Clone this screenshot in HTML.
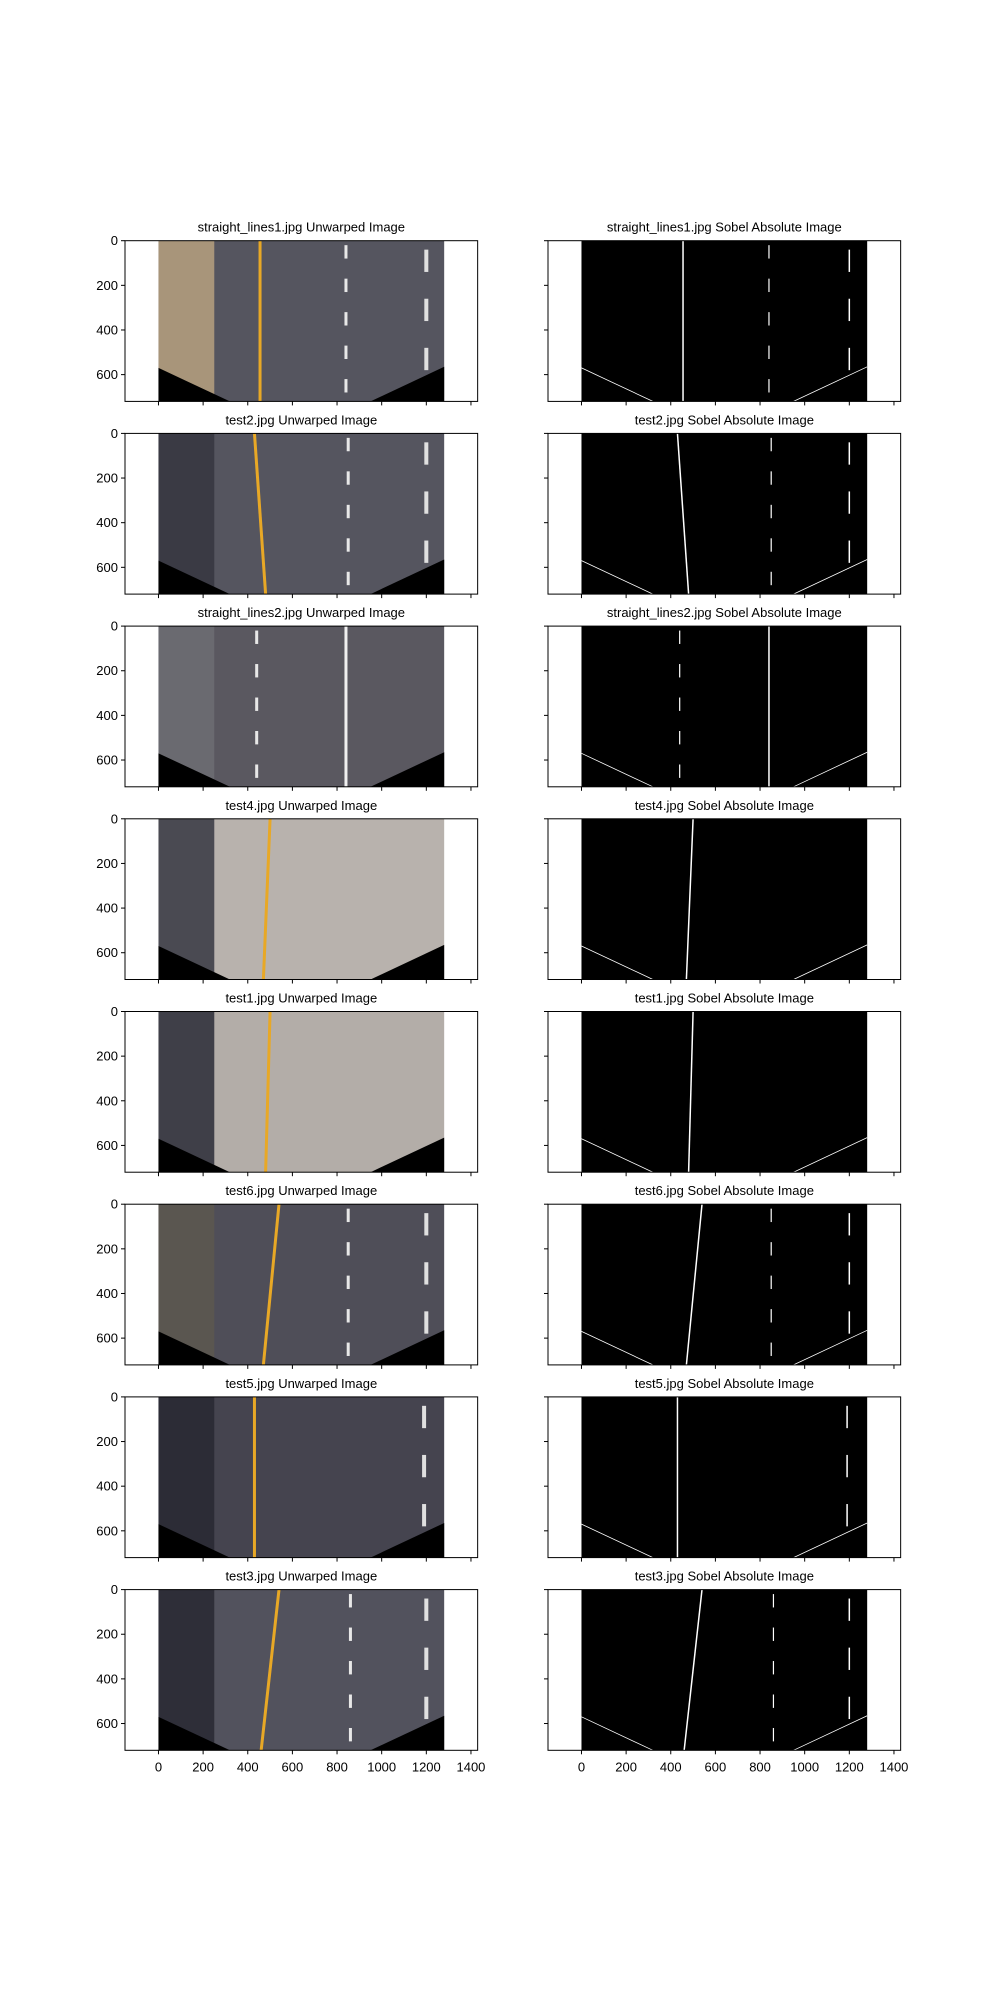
<!DOCTYPE html>
<html><head><meta charset="utf-8"><style>
body{margin:0;background:#fff;}
svg text{font-family:"Liberation Sans","DejaVu Sans",sans-serif;fill:#000;}
</style></head><body>
<svg id="fig" width="1000" height="2000" xmlns="http://www.w3.org/2000/svg"></svg>
<script>
const names=["straight_lines1.jpg","test2.jpg","straight_lines2.jpg","test4.jpg","test1.jpg","test6.jpg","test5.jpg","test3.jpg"];
const roadColors=["#55555f","#55555f","#5a5860","#b8b2ad","#b3ada8","#4f4e58","#45444f","#52525d"];
const edgeColors=["#a8957a","#3a3a44","#6a6a70","#4a4a52","#3f3f48","#5a5650","#2c2c36","#2e2e38"];
const yellowTop=[455,430,null,500,500,540,430,540];
const yellowBot=[455,480,null,470,480,470,430,460];
const laneA=[840,850,440,null,null,850,null,860];
const laneB=[1200,1200,840,null,null,1200,1190,1200];
const solidB=[false,false,true,false,false,false,false,false];
const xTicks=[0,200,400,600,800,1000,1200,1400];
const yTicks=[0,200,400,600];
const XMIN=-150,XMAX=1430,YMAX=720;
const S=0.2232;
const colLeft=[125,548];
const rowTop0=240.7,rowPitch=192.7;
const NS="http://www.w3.org/2000/svg";
const fig=document.getElementById('fig');
function mk(t,a,p){const e=document.createElementNS(NS,t);for(const k in a)e.setAttribute(k,a[k]);(p||fig).appendChild(e);return e;}
names.forEach((nm,i)=>{
 [0,1].forEach(c=>{
  const L=colLeft[c],T=rowTop0+i*rowPitch;
  const X=v=>L+(v-XMIN)*S, Y=v=>T+v*S;
  const g=mk('g',{});
  
  
  const bg=c?'#000':roadColors[i];
  mk('rect',{x:X(0),y:Y(0),width:1280*S,height:720*S,fill:bg},g);
  const line=(x1,y1,x2,y2,col,w)=>mk('line',{x1:X(x1),y1:Y(y1),x2:X(x2),y2:Y(y2),stroke:col,'stroke-width':w},g);
  if(!c){
   mk('rect',{x:X(0),y:Y(0),width:250*S,height:720*S,fill:edgeColors[i]},g);
   if(yellowTop[i]!=null)line(yellowTop[i],0,yellowBot[i],720,'#e8a826',3);
   if(laneA[i]!=null)for(let k=0;k<5;k++)line(laneA[i],k*150+20,laneA[i],k*150+80,'#e8e8e8',3);
   if(laneB[i]!=null){ if(solidB[i])line(laneB[i],0,laneB[i],720,'#f0f0f0',3); else for(let k=0;k<3;k++)line(laneB[i],k*220+40,laneB[i],k*220+140,'#e0e0e0',4);}
   mk('polygon',{points:`${X(0)},${Y(570)} ${X(0)},${Y(720)} ${X(320)},${Y(720)}`,fill:'#000'},g);
   mk('polygon',{points:`${X(1280)},${Y(565)} ${X(1280)},${Y(720)} ${X(950)},${Y(720)}`,fill:'#000'},g);
  } else {
   if(yellowTop[i]!=null)line(yellowTop[i],0,yellowBot[i],720,'#fff',1.5);
   if(laneA[i]!=null)for(let k=0;k<5;k++)line(laneA[i],k*150+20,laneA[i],k*150+80,'#fff',1.2);
   if(laneB[i]!=null){ if(solidB[i])line(laneB[i],0,laneB[i],720,'#fff',1.5); else for(let k=0;k<3;k++)line(laneB[i],k*220+40,laneB[i],k*220+140,'#fff',1.5);}
   line(0,570,320,720,'#fff',0.8);
   line(1280,565,950,720,'#fff',0.8);
  }
  const fr=mk('rect',{x:L,y:T,width:(XMAX-XMIN)*S,height:YMAX*S,fill:'none',stroke:'#000','stroke-width':1},g);
  
  
  const tt=mk('text',{x:L+(XMAX-XMIN)*S/2,y:T-9,'font-size':13,'text-anchor':'middle'},g);
  tt.textContent=nm+(c?' Sobel Absolute Image':' Unwarped Image');
  
  
  yTicks.forEach(v=>{
   mk('line',{x1:L-4,y1:Y(v),x2:L,y2:Y(v),stroke:'#000'},g);
   if(!c){const t=mk('text',{x:L-7,y:Y(v)+4.5,'font-size':13,'text-anchor':'end'},g);t.textContent=v;
    
    }
  });
  xTicks.forEach(v=>{
   const B=T+YMAX*S;
   mk('line',{x1:X(v),y1:B,x2:X(v),y2:B+4,stroke:'#000'},g);
   if(i===names.length-1){const t=mk('text',{x:X(v),y:B+21,'font-size':13,'text-anchor':'middle'},g);t.textContent=v;
    
    }
  });
 });
});
</script>
</body></html>
